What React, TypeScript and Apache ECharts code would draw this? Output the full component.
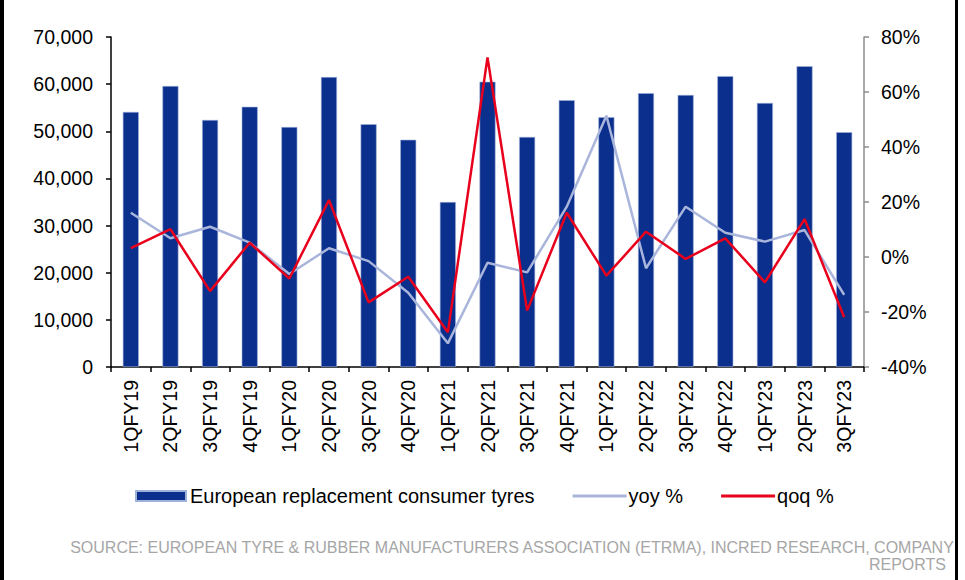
import React, { useEffect, useRef } from "react";
import * as echarts from "echarts";

const categories = [
  "1QFY19", "2QFY19", "3QFY19", "4QFY19",
  "1QFY20", "2QFY20", "3QFY20", "4QFY20",
  "1QFY21", "2QFY21", "3QFY21", "4QFY21",
  "1QFY22", "2QFY22", "3QFY22", "4QFY22",
  "1QFY23", "2QFY23", "3QFY23",
];

const tyres = [
  54100, 59600, 52400, 55200,
  50900, 61500, 51500, 48200,
  35000, 60500, 48800, 56600,
  53000, 58100, 57700, 61700,
  56000, 63800, 49800,
];

const yoy = [
  16.1, 6.8, 11.0, 5.2,
  -6.2, 3.2, -1.5, -13.0,
  -31.4, -2.1, -5.6, 18.3,
  51.4, -4.1, 18.3, 8.8,
  5.6, 9.8, -13.8,
];

const qoq = [
  3.2, 10.1, -12.4, 5.2,
  -7.8, 20.7, -16.5, -7.2,
  -27.4, 72.6, -19.5, 16.1,
  -6.8, 9.2, -0.7, 6.8,
  -9.2, 13.8, -21.9,
];

const seriesNames = ["European replacement consumer tyres", "yoy %", "qoq %"];
const sourceLine1 =
  "SOURCE: EUROPEAN TYRE & RUBBER MANUFACTURERS ASSOCIATION (ETRMA), INCRED RESEARCH, COMPANY";
const sourceLine2 = "REPORTS";

const FONT = "'Liberation Sans', Arial, sans-serif";
const LINE_ICON = "path://M0,0 L54,0 L54,3 L0,3 Z";

export default function App() {
  const ref = useRef<HTMLDivElement>(null);

  useEffect(() => {
    if (!ref.current) return;
    const chart = echarts.init(ref.current, undefined, { renderer: "svg" });
    chart.setOption({
      animation: false,
      backgroundColor: "#ffffff",
      textStyle: { fontFamily: FONT },
      grid: { left: 111, right: 101, top: 37, bottom: 213, containLabel: false },
      legend: {
        left: 130,
        top: 481,
        itemWidth: 54,
        itemHeight: 10,
        itemGap: 38,
        symbolKeepAspect: true,
        textStyle: { fontSize: 20, color: "#000", fontFamily: FONT, padding: [0, 0, 0, -3] },
        data: [
          { name: seriesNames[0], icon: "path://M0,0 L50,0 L50,10 L0,10 Z" },
          { name: seriesNames[1], icon: LINE_ICON },
          { name: seriesNames[2], icon: LINE_ICON },
        ],
      },
      xAxis: {
        type: "category",
        data: categories,
        boundaryGap: true,
        axisLine: { show: true, lineStyle: { color: "#000", width: 1.5 } },
        axisTick: { show: true, alignWithLabel: false, length: 5, lineStyle: { color: "#000", width: 1.5 } },
        axisLabel: {
          rotate: 90,
          fontSize: 19.5,
          color: "#000",
          margin: 13,
          fontFamily: FONT,
          interval: 0,
        },
        splitLine: { show: false },
      },
      yAxis: [
        {
          type: "value",
          min: 0,
          max: 70000,
          interval: 10000,
          axisLine: { show: true, lineStyle: { color: "#000", width: 1.5 } },
          axisTick: { show: true, length: 5, lineStyle: { color: "#000", width: 1.5 } },
          axisLabel: {
            fontSize: 19.5,
            color: "#000",
            margin: 18,
            fontFamily: FONT,
            formatter: (v: number) => v.toLocaleString("en-US"),
          },
          splitLine: { show: false },
        },
        {
          type: "value",
          min: -40,
          max: 80,
          interval: 20,
          position: "right",
          axisLine: { show: true, lineStyle: { color: "#8c8c8c", width: 1.5 } },
          axisTick: { show: true, length: 5, lineStyle: { color: "#8c8c8c", width: 1.5 } },
          axisLabel: {
            fontSize: 19.5,
            color: "#000",
            margin: 17,
            fontFamily: FONT,
            formatter: (v: number) => `${v}%`,
          },
          splitLine: { show: false },
        },
      ],
      series: [
        {
          name: seriesNames[0],
          type: "bar",
          data: tyres,
          barWidth: 16,
          itemStyle: { color: "#0a2f8c", borderColor: "#9fb0da", borderWidth: 0.6 },
          yAxisIndex: 0,
        },
        {
          name: seriesNames[1],
          type: "line",
          data: yoy,
          yAxisIndex: 1,
          symbol: "none",
          lineStyle: { color: "#a9b5db", width: 2.5 },
          itemStyle: { color: "#a9b5db" },
          z: 3,
        },
        {
          name: seriesNames[2],
          type: "line",
          data: qoq,
          yAxisIndex: 1,
          symbol: "none",
          lineStyle: { color: "#e8001c", width: 2.5 },
          itemStyle: { color: "#e8001c" },
          z: 4,
        },
      ],
      graphic: [
        { type: "rect", shape: { x: 0, y: 0, width: 4, height: 580 }, style: { fill: "#000" } },
        { type: "rect", shape: { x: 955, y: 0, width: 3, height: 580 }, style: { fill: "#000" } },
        {
          type: "text",
          right: 10,
          top: 539,
          style: { text: sourceLine1, fontSize: 16, fill: "#a6a6a6", fontFamily: FONT, align: "right" },
        },
        {
          type: "text",
          right: 19,
          top: 556,
          style: { text: sourceLine2, fontSize: 16, fill: "#a6a6a6", fontFamily: FONT, align: "right" },
        },
      ],
    });
    return () => chart.dispose();
  }, []);

  return (
    <div
      ref={ref}
      style={{ position: "fixed", left: 0, top: 0, width: 965, height: 580, background: "#fff" }}
    />
  );
}
